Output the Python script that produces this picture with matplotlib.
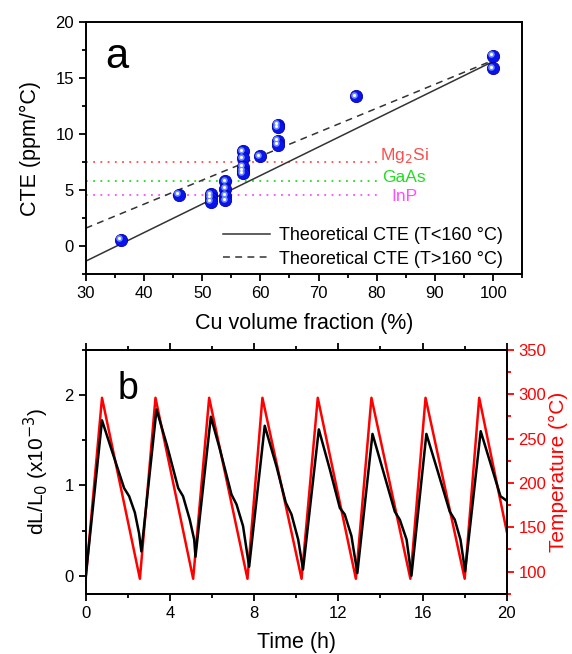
import numpy as np
import matplotlib
matplotlib.use("Agg")
import matplotlib.pyplot as plt
from matplotlib.ticker import MultipleLocator
from matplotlib.transforms import offset_copy

plt.rcParams['font.family'] = ['Liberation Sans', 'DejaVu Sans']

# ---- panel a data: measured CTE vs Cu volume fraction ----
cu_frac = [36.0, 46.0, 51.5, 51.5, 51.5, 54.0, 54.0, 54.0, 54.0,
           57.0, 57.0, 57.0, 57.0, 57.0, 59.9, 63.0, 63.0, 63.0, 63.0,
           76.4, 99.9, 99.9]
cte = [0.55, 4.6, 4.62, 4.3, 3.96, 5.8, 5.1, 4.5, 4.1,
       8.45, 7.85, 7.1, 6.75, 6.5, 8.02, 10.85, 10.6, 9.4, 9.05,
       13.4, 17.0, 15.9]

# theoretical lines (end points)
theo_x = [30, 100]
theo_low = [-1.35, 16.5]    # T<160 °C
theo_high = [1.6, 16.6]     # T>160 °C

# reference CTE of substrates
ref_names = ['Mg$_2$Si', 'GaAs', 'InP']
ref_cte = [7.5, 5.8, 4.6]
ref_label_y = [8.1, 6.15, 4.45]
ref_colors = ['#ff4d4d', '#22dd22', '#ff4dff']

# ---- panel b data: thermal cycling ----
temp_t = [0, 0.77, 2.57, 3.31, 5.10, 5.86, 7.68, 8.39, 10.25, 11.02,
          12.83, 13.57, 15.42, 16.14, 18.0, 18.69, 20]
temp_c = [93, 296, 92, 296, 92, 296, 92, 296, 92, 296,
          92, 296, 92, 296, 92, 296, 145]

dl_t = [0, 0.77, 1.30, 1.82, 2.06, 2.33, 2.53, 2.64,
        3.36, 3.86, 4.39, 4.62, 4.94, 5.15, 5.21,
        5.94, 6.37, 6.92, 7.16, 7.47, 7.76,
        8.50, 9.06, 9.50, 9.77, 10.09, 10.32,
        11.07, 11.59, 12.07, 12.30, 12.62, 12.90,
        13.62, 14.20, 14.68, 14.92, 15.24, 15.47,
        16.18, 16.74, 17.29, 17.53, 17.80, 18.02,
        18.76, 19.27, 19.70, 20.0]
dl_val = [0.0, 1.72, 1.34, 0.97, 0.88, 0.70, 0.47, 0.27,
          1.84, 1.44, 0.97, 0.88, 0.62, 0.40, 0.21,
          1.76, 1.40, 0.90, 0.79, 0.55, 0.10,
          1.66, 1.21, 0.81, 0.68, 0.40, 0.07,
          1.62, 1.18, 0.75, 0.68, 0.44, 0.03,
          1.57, 1.10, 0.71, 0.62, 0.40, 0.0,
          1.57, 1.14, 0.71, 0.62, 0.40, 0.05,
          1.60, 1.21, 0.88, 0.83]

fig = plt.figure(figsize=(5.72, 6.54), dpi=100)

# ================= panel a =================
ax1 = fig.add_axes([0.150, 0.581, 0.763, 0.385])
for name, val, ly, col in zip(ref_names, ref_cte, ref_label_y, ref_colors):
    ax1.plot([30, 80], [val, val], linestyle=(0, (1, 3)), color=col, lw=1.3)
    ax1.text(84.7, ly, name, color=col, fontsize=12.5, ha='center', va='center')

ax1.plot(theo_x, theo_low, color='#333333', lw=1.1, label='Theoretical CTE (T<160 °C)')
ax1.plot(theo_x, theo_high, color='#333333', lw=1.1, dashes=(4.5, 3.5),
         label='Theoretical CTE (T>160 °C)')

# spheres: blue body + highlight
ax1.scatter(cu_frac, cte, s=78, color='#0a14e8', edgecolors='#0000b0', linewidths=0.6, zorder=3)
hl = offset_copy(ax1.transData, fig=fig, x=-1.5, y=1.5, units='dots')
ax1.scatter(cu_frac, cte, s=22, color='#6e8cff', linewidths=0, transform=hl, zorder=4)
ax1.scatter(cu_frac, cte, s=5, color='white', linewidths=0, transform=hl, zorder=5)

ax1.set_xlim(30, 105)
ax1.set_ylim(-2.5, 20)
ax1.xaxis.set_major_locator(MultipleLocator(10))
ax1.xaxis.set_minor_locator(MultipleLocator(5))
ax1.yaxis.set_major_locator(MultipleLocator(5))
ax1.yaxis.set_minor_locator(MultipleLocator(2.5))
ax1.tick_params(which='both', direction='out', labelsize=12, width=1.3, top=False, right=False)
ax1.tick_params(which='major', length=5)
ax1.tick_params(which='minor', length=3)
for sp in ax1.spines.values():
    sp.set_linewidth(1.4)
ax1.set_xlabel('Cu volume fraction (%)', fontsize=15.5, labelpad=9)
ax1.set_ylabel('CTE (ppm/°C)', fontsize=15.5, labelpad=10)
ax1.text(0.07, 0.86, 'a', transform=ax1.transAxes, fontsize=30, ha='center', va='center')
ax1.legend(loc='lower right', bbox_to_anchor=(0.955, 0.025), frameon=False, fontsize=13,
           handlelength=2.6, labelspacing=0.35, handletextpad=0.5, borderaxespad=0, borderpad=0)

# ================= panel b =================
ax2 = fig.add_axes([0.150, 0.092, 0.736, 0.373])
ax2.plot(dl_t, dl_val, color='black', lw=1.8, zorder=3)
ax2.set_xlim(0, 20)
ax2.set_ylim(-0.2, 2.5)
ax2.xaxis.set_major_locator(MultipleLocator(4))
ax2.xaxis.set_minor_locator(MultipleLocator(2))
ax2.yaxis.set_major_locator(MultipleLocator(1))
ax2.yaxis.set_minor_locator(MultipleLocator(0.5))
ax2.tick_params(which='both', direction='out', labelsize=12, width=1.3, top=True, right=False)
ax2.tick_params(which='major', length=5)
ax2.tick_params(which='minor', length=3)
ax2.set_xlabel('Time (h)', fontsize=15.5, labelpad=8)
ax2.set_ylabel('dL/L$_0$ (x10$^{-3}$)', fontsize=15, labelpad=10)
ax2.text(0.10, 0.84, 'b', transform=ax2.transAxes, fontsize=27, ha='center', va='center')

ax3 = ax2.twinx()
ax3.plot(temp_t, temp_c, color='red', lw=1.8, zorder=2)
ax3.set_ylim(75, 350)
ax3.yaxis.set_major_locator(MultipleLocator(50))
ax3.yaxis.set_minor_locator(MultipleLocator(25))
ax3.tick_params(which='both', direction='out', labelsize=12, width=1.3, colors='red')
ax3.tick_params(which='major', length=5)
ax3.tick_params(which='minor', length=3)
ax3.set_ylabel('Temperature (°C)', fontsize=15, color='red', labelpad=2)
ax3.spines['right'].set_color('red')
for sp in list(ax2.spines.values()) + list(ax3.spines.values()):
    sp.set_linewidth(1.4)
ax3.spines['left'].set_visible(False)
ax2.set_zorder(ax3.get_zorder() + 1)
ax2.patch.set_visible(False)

fig.savefig('out.png', dpi=100)
